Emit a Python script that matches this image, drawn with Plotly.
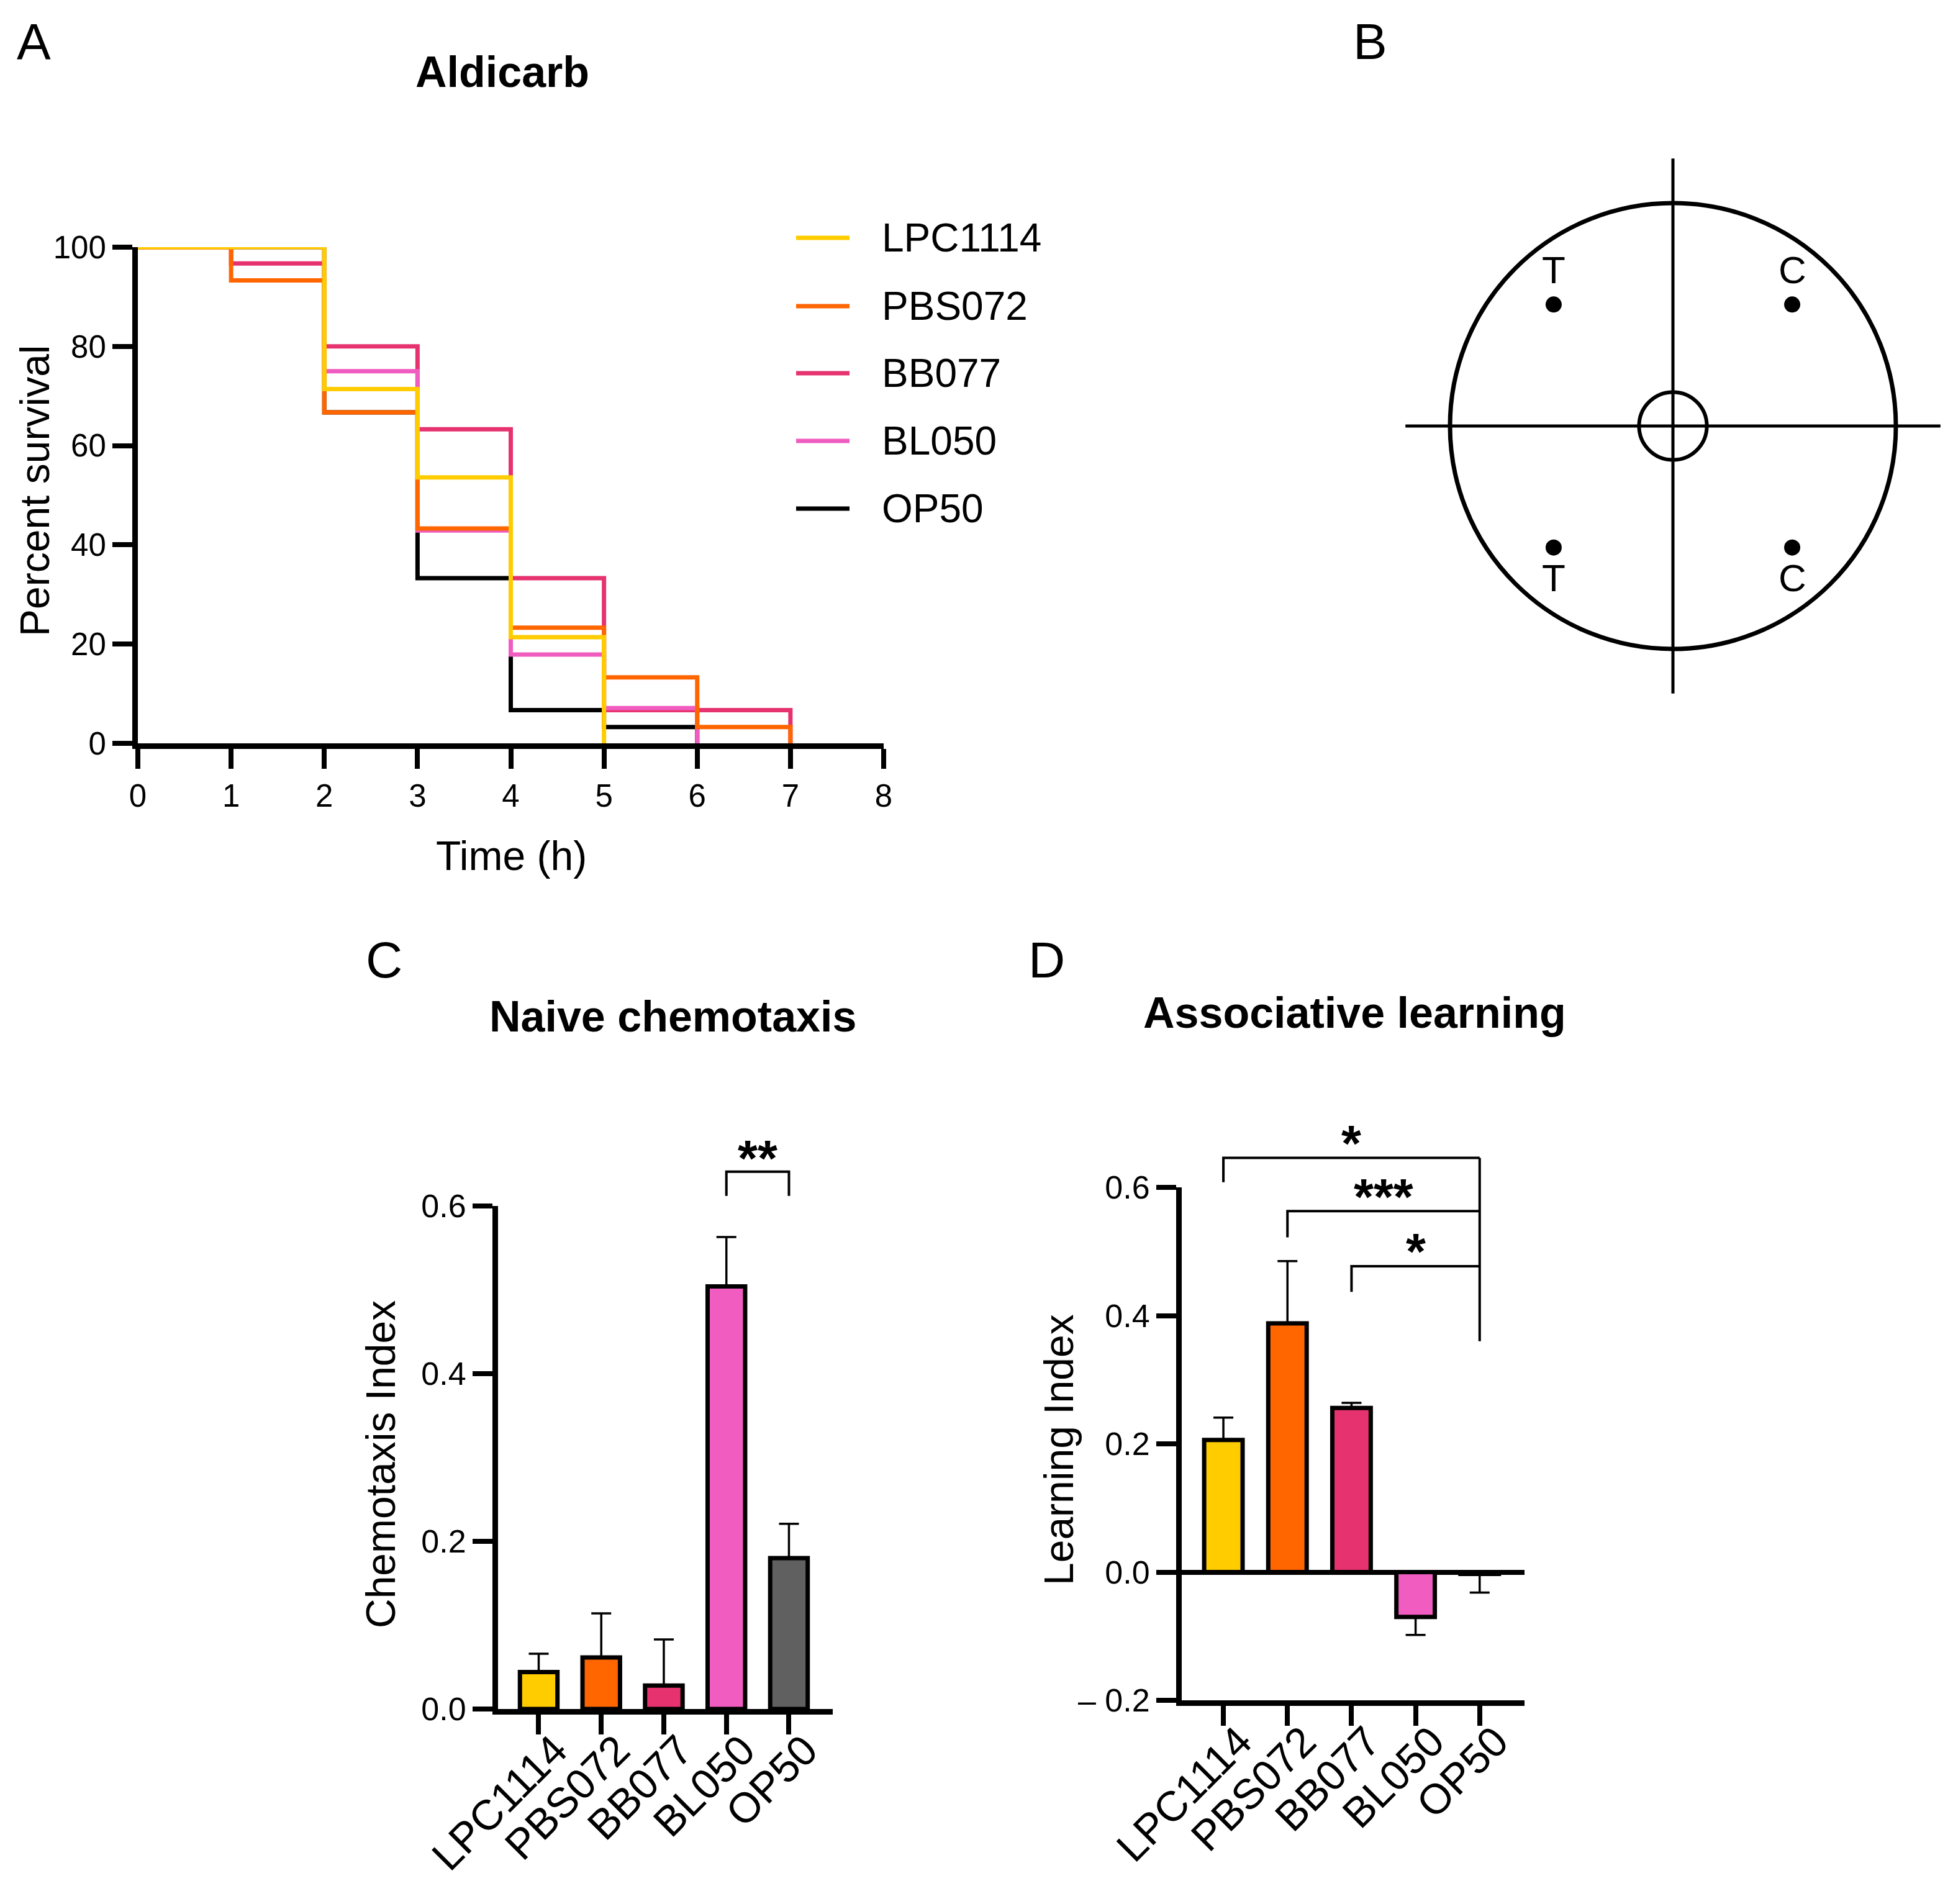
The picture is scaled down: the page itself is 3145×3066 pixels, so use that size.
import plotly.graph_objects as go

W, H = 3145, 3066
FONT = "Liberation Sans, Arial, Helvetica, sans-serif"

# ---------------- data ----------------
strains = ["LPC1114", "PBS072", "BB077", "BL050", "OP50"]
line_colors = ["#FFCC00", "#FF6600", "#E6336F", "#F05CC0", "#000000"]
bar_colors = ["#FFCC00", "#FF6600", "#E6336F", "#F05CC0", "#606060"]

# Panel A: Kaplan-Meier style survival on aldicarb (step data)
time_lpc1114 = [0, 2, 3, 4, 5]
surv_lpc1114 = [100, 71.4, 53.6, 21.4, 0]
time_pbs072 = [0, 1, 2, 3, 4, 5, 6, 7]
surv_pbs072 = [100, 93.3, 66.7, 43.3, 23.3, 13.3, 3.3, 0]
time_bb077 = [0, 1, 2, 3, 4, 5, 7]
surv_bb077 = [100, 96.7, 80.0, 63.3, 33.3, 6.7, 0]
time_bl050 = [0, 2, 3, 4, 5, 6]
surv_bl050 = [100, 75.0, 42.9, 17.9, 7.1, 0]
time_op50 = [0, 2, 3, 4, 5, 6]
surv_op50 = [100, 66.7, 33.3, 6.7, 3.3, 0]
time_ticks = [0, 1, 2, 3, 4, 5, 6, 7, 8]
surv_ticks = [0, 20, 40, 60, 80, 100]

# Panel C: naive chemotaxis
chemo_mean = [0.044, 0.0615, 0.028, 0.504, 0.180]
chemo_sem = [0.022, 0.0525, 0.055, 0.059, 0.041]
chemo_ticks = [0.0, 0.2, 0.4, 0.6]
chemo_ticktext = ["0.0", "0.2", "0.4", "0.6"]
chemo_sig_left = [3]
chemo_sig_right = [4]
chemo_sig_label = ["**"]
chemo_sig_y = [0.641]
chemo_sig_leg = [0.612]

# Panel D: associative learning
learn_mean = [0.206, 0.388, 0.256, -0.070, -0.003]
learn_sem = [0.035, 0.097, 0.008, 0.028, 0.029]
learn_ticks = [-0.2, 0.0, 0.2, 0.4, 0.6]
learn_ticktext = ["\u2013 0.2", "0.0", "0.2", "0.4", "0.6"]
learn_sig_left = [0, 1, 2]
learn_sig_right = [4, 4, 4]
learn_sig_label = ["*", "***", "*"]
learn_sig_y = [0.646, 0.563, 0.477]
learn_sig_leg = [0.608, 0.522, 0.437]
learn_sig_right_bottom = 0.36

# Panel B: chemotaxis plate schematic (in plate radii)
plate_radius = 1.0
center_radius = 0.152
cross_half = 1.2
spot_x = [-0.535, 0.535, -0.535, 0.535]
spot_y = [0.545, 0.545, -0.545, -0.545]
spot_label = ["T", "C", "T", "C"]
label_y = [0.70, 0.70, -0.68, -0.68]

# ---------------- layout helpers ----------------
def px(x):
    return x / W

def py(y):
    return 1 - y / H

def dom_x(a, b):
    return [a / W, b / W]

def dom_y(top, bottom):
    return [1 - bottom / H, 1 - top / H]

A_dx, A_dy = dom_x(222, 1423), dom_y(398, 1197)
B_c, B_half, B_r = (2694, 686), 450, 359
B_dx = dom_x(B_c[0] - B_half, B_c[0] + B_half)
B_dy = dom_y(B_c[1] - B_half, B_c[1] + B_half)
B_rng = [-B_half / B_r, B_half / B_r]
C_dx, C_dy = dom_x(802, 1341), dom_y(1942, 2752)
C_rng = [0, 0.6]
D_dx, D_dy = dom_x(1903, 2455), dom_y(1912, 2738)
D_rng = [-0.2, 0.6]
XR = [-0.65, 4.7]


def ypaper(dom, rng, v):
    return dom[0] + (v - rng[0]) / (rng[1] - rng[0]) * (dom[1] - dom[0])


fig = go.Figure()

# ---------------- Panel A ----------------
series = {
    "LPC1114": (time_lpc1114, surv_lpc1114),
    "PBS072": (time_pbs072, surv_pbs072),
    "BB077": (time_bb077, surv_bb077),
    "BL050": (time_bl050, surv_bl050),
    "OP50": (time_op50, surv_op50),
}
for name in ["OP50", "BB077", "BL050", "PBS072", "LPC1114"]:
    t, s = series[name]
    fig.add_trace(go.Scatter(
        x=t, y=s, mode="lines", name=name, showlegend=False,
        line=dict(shape="hv", color=line_colors[strains.index(name)], width=7),
        xaxis="x", yaxis="y"))

# ---------------- Panel B ----------------
fig.add_trace(go.Scatter(
    x=spot_x, y=spot_y, mode="markers", showlegend=False,
    marker=dict(size=26, color="black"), xaxis="x2", yaxis="y2"))

# ---------------- Panel C ----------------
fig.add_trace(go.Bar(
    x=strains, y=chemo_mean, width=0.6, showlegend=False,
    marker=dict(color=bar_colors, line=dict(color="black", width=7)),
    error_y=dict(type="data", symmetric=False, array=chemo_sem,
                 arrayminus=[0] * len(chemo_sem), color="black",
                 thickness=3.5, width=16),
    xaxis="x3", yaxis="y3"))

# ---------------- Panel D ----------------
plus = [e if m >= 0 else 0 for m, e in zip(learn_mean, learn_sem)]
minus = [e if m < 0 else 0 for m, e in zip(learn_mean, learn_sem)]
fig.add_trace(go.Bar(
    x=strains, y=learn_mean, width=0.6, showlegend=False,
    marker=dict(color=bar_colors, line=dict(color="black", width=7)),
    error_y=dict(type="data", symmetric=False, array=plus, arrayminus=minus,
                 color="black", thickness=3.5, width=16),
    xaxis="x4", yaxis="y4"))

axis_common = dict(showgrid=False, ticks="outside", ticklen=32, tickwidth=8,
                   tickcolor="black", showline=True, linewidth=9,
                   linecolor="black", zeroline=False, fixedrange=True,
                   automargin=False)
cat_axis = dict(type="category", range=XR, tickangle=-45, tickfont=dict(size=68),
                ticklabelstandoff=-42, ticklabelshift=26)

shapes = []
annotations = []

# Panel B shapes
B_line = dict(color="black", width=7)
shapes.append(dict(type="circle", xref="x2", yref="y2", x0=-plate_radius, x1=plate_radius,
                   y0=-plate_radius, y1=plate_radius, line=B_line))
shapes.append(dict(type="circle", xref="x2", yref="y2", x0=-center_radius, x1=center_radius,
                   y0=-center_radius, y1=center_radius, line=dict(color="black", width=6)))
shapes.append(dict(type="line", xref="x2", yref="y2", x0=0, x1=0, y0=-cross_half, y1=cross_half,
                   line=dict(color="black", width=5)))
shapes.append(dict(type="line", xref="x2", yref="y2", x0=-cross_half, x1=cross_half, y0=0, y1=0,
                   line=dict(color="black", width=5)))
for xs, ys, lab in zip(spot_x, label_y, spot_label):
    annotations.append(dict(x=xs, y=ys, xref="x2", yref="y2", text=lab, showarrow=False,
                            font=dict(size=62, family=FONT, color="black"),
                            xanchor="center", yanchor="middle"))

# Legend for panel A (drawn manually)
leg_rows = [383, 493, 601, 710, 819]
for name, col, yy in zip(strains, line_colors, leg_rows):
    shapes.append(dict(type="line", xref="paper", yref="paper", x0=px(1282), x1=px(1368),
                       y0=py(yy), y1=py(yy), line=dict(color=col, width=7)))
    annotations.append(dict(x=px(1418), y=py(yy), xref="paper", yref="paper", text=name,
                            showarrow=False, xanchor="left", yanchor="middle",
                            font=dict(size=64, family=FONT, color="black")))

STAR_FONT = dict(size=82, family=FONT, color="black")
BRACKET = dict(color="black", width=4)

# significance brackets C
for l, r, lab, yb, leg in zip(chemo_sig_left, chemo_sig_right, chemo_sig_label,
                              chemo_sig_y, chemo_sig_leg):
    yb_p, leg_p = ypaper(C_dy, C_rng, yb), ypaper(C_dy, C_rng, leg)
    shapes.append(dict(type="path", xref="x3", yref="paper",
                       path=f"M {l},{leg_p} L {l},{yb_p} L {r},{yb_p} L {r},{leg_p}",
                       line=BRACKET))
    annotations.append(dict(x=(l + r) / 2, y=yb_p, xref="x3", yref="paper", text=f"<b>{lab}</b>",
                            showarrow=False, xanchor="center", yanchor="middle", yshift=22,
                            font=STAR_FONT))

# significance brackets D
top_p = ypaper(D_dy, D_rng, max(learn_sig_y))
shapes.append(dict(type="line", xref="x4", yref="paper", x0=learn_sig_right[0], x1=learn_sig_right[0],
                   y0=ypaper(D_dy, D_rng, learn_sig_right_bottom), y1=top_p, line=BRACKET))
for l, r, lab, yb, leg in zip(learn_sig_left, learn_sig_right, learn_sig_label,
                              learn_sig_y, learn_sig_leg):
    yb_p, leg_p = ypaper(D_dy, D_rng, yb), ypaper(D_dy, D_rng, leg)
    shapes.append(dict(type="path", xref="x4", yref="paper",
                       path=f"M {l},{leg_p} L {l},{yb_p} L {r},{yb_p}",
                       line=BRACKET))
    annotations.append(dict(x=(l + r) / 2, y=yb_p, xref="x4", yref="paper", text=f"<b>{lab}</b>",
                            showarrow=False, xanchor="center", yanchor="middle", yshift=24,
                            font=STAR_FONT))

# titles, panel letters, axis titles
def txt(x, y, s, size, angle=0, bold=False):
    annotations.append(dict(x=px(x), y=py(y), xref="paper", yref="paper",
                            text=f"<b>{s}</b>" if bold else s, showarrow=False,
                            textangle=angle, xanchor="center", yanchor="middle",
                            font=dict(size=size, family=FONT, color="black")))

txt(54, 66, "A", 82)
txt(2206, 66, "B", 82)
txt(618, 1545, "C", 82)
txt(1685, 1545, "D", 82)
txt(809, 116, "Aldicarb", 70, bold=True)
txt(1083, 1637, "Naive chemotaxis", 70, bold=True)
txt(2181, 1631, "Associative learning", 70, bold=True)
txt(56, 790, "Percent survival", 66, angle=-90)
txt(824, 1378, "Time (h)", 66)
txt(613, 2358, "Chemotaxis Index", 66, angle=-90)
txt(1705, 2335, "Learning Index", 66, angle=-90)

fig.update_layout(
    template="none",
    width=W, height=H, autosize=False,
    margin=dict(l=0, r=0, t=0, b=0, pad=0, autoexpand=False),
    paper_bgcolor="white", plot_bgcolor="white",
    font=dict(family=FONT, color="black"),
    showlegend=False,
    xaxis=dict(domain=A_dx, range=[0, 8], tickvals=time_ticks, anchor="y",
               tickfont=dict(size=51), **axis_common),
    yaxis=dict(domain=A_dy, range=[0, 100], tickvals=surv_ticks, anchor="x",
               tickfont=dict(size=51), **axis_common),
    xaxis2=dict(domain=B_dx, range=B_rng, visible=False, anchor="y2", fixedrange=True,
                automargin=False),
    yaxis2=dict(domain=B_dy, range=B_rng, visible=False, anchor="x2", fixedrange=True,
                automargin=False),
    xaxis3=dict(domain=C_dx, anchor="y3", **cat_axis, **axis_common),
    yaxis3=dict(domain=C_dy, range=C_rng, tickvals=chemo_ticks, ticktext=chemo_ticktext,
                anchor="x3", tickfont=dict(size=52), **axis_common),
    xaxis4=dict(domain=D_dx, anchor="y4", **cat_axis, **axis_common),
    yaxis4=dict(domain=D_dy, range=D_rng, tickvals=learn_ticks, ticktext=learn_ticktext,
                anchor="x4", tickfont=dict(size=52),
                **{**axis_common, "zeroline": True}, zerolinewidth=8, zerolinecolor="black"),
    shapes=shapes,
    annotations=annotations,
)

fig.write_html("out.html",
               config={"displayModeBar": False},
               post_script="document.body.style.margin='0px';"
                           "document.body.style.padding='0px';"
                           "document.body.style.overflow='hidden';")
